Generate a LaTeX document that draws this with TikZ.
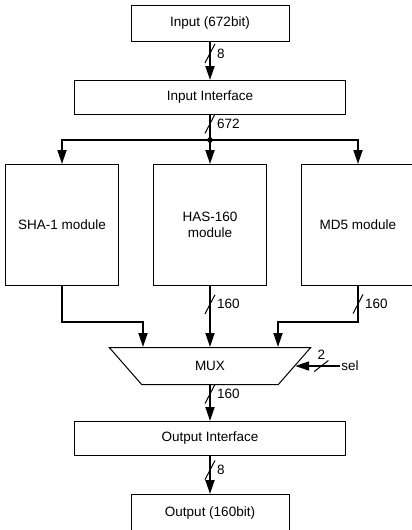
\documentclass[tikz,border=0pt]{standalone}
\usepackage{fontspec}
\setmainfont{Liberation Sans}
\usepackage{tikz}
\usetikzlibrary{shapes.geometric,arrows.meta,positioning,calc}
\tikzstyle{blk}  = [rectangle, draw, line width=1pt, inner sep=2pt,
                    align=center, font=\fontsize{13.5}{16.5}\selectfont]
\tikzstyle{Bio}  = [blk, minimum width=158pt, minimum height=36pt]
\tikzstyle{Bif}  = [blk, minimum width=271pt, minimum height=34pt]
\tikzstyle{Bmod} = [blk, minimum width=113pt, minimum height=121pt]
\tikzstyle{Bmux} = [blk, trapezium, trapezium angle=121, trapezium stretches=true,
                    minimum width=202pt, minimum height=37pt]
\tikzstyle{bus}  = [inner sep=0pt, minimum width=8pt, minimum height=17pt]
\tikzstyle{hbus} = [bus, minimum width=12pt, minimum height=9pt]
\tikzstyle{tick} = [line width=1pt, line cap=round]
\tikzstyle{lbl}  = [inner sep=1pt, font=\fontsize{13.5}{16.5}\selectfont]
\tikzstyle{wire} = [line width=1.8pt]

\begin{document}
\begin{tikzpicture}[x=1pt, y=-1pt, >={Triangle[length=14pt,width=9pt]}]
  \useasboundingbox (0,0) rectangle (412,530);

  % blocks
  \node[Bio] (in) at (210,23.5) {Input (672bit)};
  \node[Bif, below=38pt of in] (ii) {Input Interface};
  \node[Bmod, below=49pt of ii] (has) {HAS-160\\module};
  \node[Bmod, left=34pt of has] (sha) {SHA-1 module};
  \node[Bmod, right=34pt of has] (md5) {MD5 module};
  \node[Bmux, below=61pt of has] (mux) {MUX};
  \node[Bif, below=36pt of mux] (oi) {Output Interface};
  \node[Bio, below=38pt of oi] (out) {Output (160bit)};
  \node[lbl, right=45pt of mux.east] (sel) {sel};

  \coordinate (jn) at (210,140);
  \coordinate (shaT) at (143,322);
  \coordinate (md5T) at (278,322);

  % input side
  \draw[wire,->] (in) -- node[bus,pos=.3] (b1) {} (ii);
  \node[lbl, anchor=west, xshift=1pt] at (b1.east) {8};
  \draw[wire] (ii) -- node[bus,pos=.35] (b2) {} (jn);
  \node[lbl, anchor=west, xshift=1pt] at (b2.east) {672};
  \fill (jn) circle (2.8pt);
  \draw[wire,->] (jn) -| (sha);
  \draw[wire,->] (jn) -- (has);
  \draw[wire,->] (jn) -| (md5);

  % modules to mux
  \draw[wire,->] (sha) |- (shaT) -- (shaT |- mux.north);
  \draw[wire,->] (has) -- node[bus,pos=.3] (b3) {} (mux);
  \node[lbl, anchor=west, xshift=1pt] at (b3.east) {160};
  \draw[wire,->] (md5) |- node[bus,pos=.25] (b4) {} (md5T) -- (md5T |- mux.north);
  \node[lbl, anchor=west, xshift=1pt] at (b4.east) {160};
  \draw[wire,->] (sel.west) -- node[hbus,pos=.42] (b7) {} (mux.east);
  \node[lbl, anchor=south] at (b7.north) {2};

  % output side
  \draw[wire,->] (mux) -- node[bus,pos=.25] (b5) {} (oi);
  \node[lbl, anchor=west, xshift=1pt] at (b5.east) {160};
  \draw[wire,->] (oi) -- node[bus,pos=.37] (b6) {} (out);
  \node[lbl, anchor=west, xshift=1pt] at (b6.east) {8};

  % bus width ticks
  \foreach \b in {b1,b2,b3,b4,b5,b6,b7}
    \draw[tick] (\b.south west) -- (\b.north east);

\end{tikzpicture}
\end{document}
